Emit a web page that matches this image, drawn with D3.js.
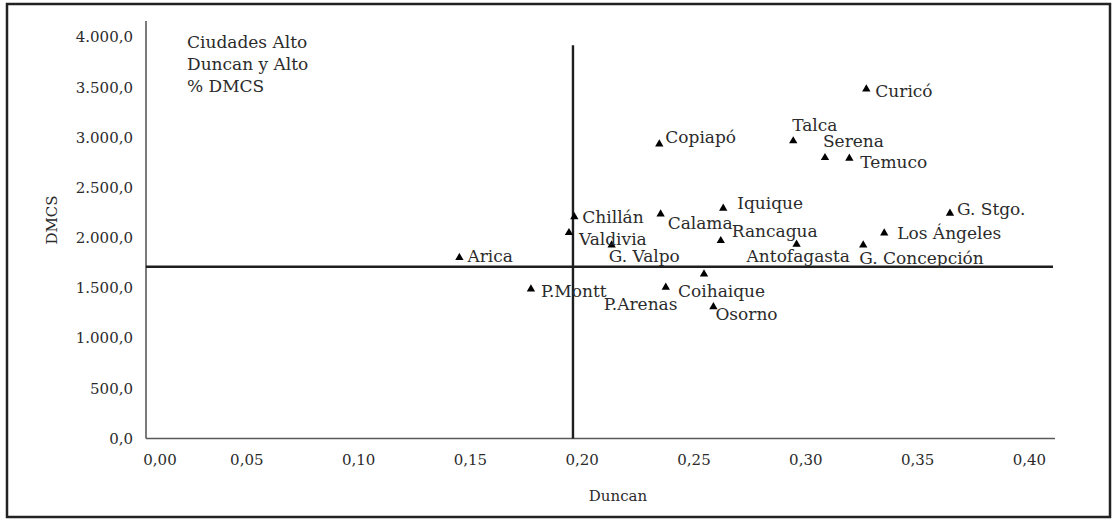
<!DOCTYPE html>
<html><head><meta charset="utf-8">
<script src="https://cdn.jsdelivr.net/npm/d3@7"></script>
<style>
body{margin:0;background:#fff}
svg text{font-family:"DejaVu Serif","Liberation Serif",serif;fill:#2b2b2b}
</style>
</head><body>
<svg id="chart" width="1113" height="521"></svg>
<script>
// ---- data ----
const cities = ["Arica","P.Montt","Valdivia","Chillán","G. Valpo","Copiapó","Calama","P.Arenas","Coihaique","Osorno","Rancagua","Iquique","Talca","Antofagasta","Serena","Temuco","G. Concepción","Curicó","Los Ángeles","G. Stgo."];
const duncan = [0.1453,0.1773,0.1943,0.1967,0.2134,0.2347,0.2353,0.2376,0.2547,0.2589,0.2622,0.2633,0.2946,0.2961,0.3088,0.3197,0.3259,0.3273,0.3353,0.3647];
const dmcs = [1802,1490,2051,2210,1928,2935,2237,1507,1639,1313,1971,2294,2965,1935,2798,2792,1928,3483,2048,2244];
const xTicks = [0,0.05,0.10,0.15,0.20,0.25,0.30,0.35,0.40];
const yTicks = [0,500,1000,1500,2000,2500,3000,3500,4000];
const meanDuncan = 0.1961;
const meanDMCS = 1712;
const refTop = 3920;
const annotation = ["Ciudades Alto","Duncan y Alto","% DMCS"];
const xTitle = "Duncan", yTitle = "DMCS";
// label offsets (layout only)
const labelDx = [8,10,10,8,-3,6,7,-62,-26,2,11,14,-1,-50,-2,11,-4,9,13,7];
const labelDy = [4,8,12,6,17,-1,15,23,23,13,-4,1,-10,18,-11,10,19,8,6,2];

// ---- layout ----
const svg = d3.select("#chart");
const plotLeft = 146, plotRight = 1055, axisTop = 21;
const x = d3.scaleLinear().domain([0, 0.41]).range([134.5, 134.5 + 0.41*2236]);
const y = d3.scaleLinear().domain([0, 4000]).range([438.5, 37.1]);
const loc = d3.formatLocale({decimal:",", thousands:".", grouping:[3], currency:["",""]});
const fy = loc.format(",.1f"), fx = loc.format(".2f");

// frame
svg.append("rect").attr("x",7).attr("y",4).attr("width",1103).attr("height",513)
  .attr("fill","none").attr("stroke","#222").attr("stroke-width",2.5);

// axes lines
svg.append("line").attr("x1",plotLeft).attr("x2",plotRight).attr("y1",y(0)).attr("y2",y(0))
  .attr("stroke","#5a5a5a").attr("stroke-width",1.6);
svg.append("line").attr("x1",plotLeft).attr("x2",plotLeft).attr("y1",y(0)).attr("y2",axisTop)
  .attr("stroke","#5a5a5a").attr("stroke-width",1.6);

// x axis ticks
const gx = svg.append("g").attr("transform",`translate(0,${y(0)})`)
  .call(d3.axisBottom(x).tickValues(xTicks).tickFormat(fx).tickSize(0).tickPadding(16));
gx.select(".domain").remove();
gx.selectAll("text").style("font-size","15px").attr("fill","#2b2b2b");
gx.selectAll(".tick text").filter((d,i)=>i===0).attr("dx",25);

// y axis ticks
const gy = svg.append("g").attr("transform",`translate(${plotLeft},0)`)
  .call(d3.axisLeft(y).tickValues(yTicks).tickFormat(fy).tickSize(0).tickPadding(13));
gy.select(".domain").remove();
gy.selectAll("text").style("font-size","15px").attr("fill","#2b2b2b");

// axis titles
svg.append("text").attr("x",618).attr("y",501).attr("text-anchor","middle")
  .style("font-size","15px").text(xTitle);
svg.append("text").attr("transform","translate(57,220) rotate(-90)").attr("text-anchor","middle")
  .style("font-size","15px").text(yTitle);

// reference lines
svg.append("line").attr("x1",x(meanDuncan)).attr("x2",x(meanDuncan)).attr("y1",y(0)).attr("y2",y(refTop))
  .attr("stroke","#1e1e1e").attr("stroke-width",2.4);
svg.append("line").attr("x1",plotLeft).attr("x2",plotRight - 2).attr("y1",y(meanDMCS)).attr("y2",y(meanDMCS))
  .attr("stroke","#1e1e1e").attr("stroke-width",2.4);

// annotation
const ann = svg.append("text").attr("x",187).attr("y",48).style("font-size","17px");
annotation.forEach((t,i)=> ann.append("tspan").attr("x",187).attr("dy", i===0?0:22).text(t));

// points
const data = cities.map((c,i)=>({c, dx:duncan[i], dm:dmcs[i], i}));
svg.append("g").selectAll("path").data(data).join("path")
  .attr("d", d3.symbol(d3.symbolTriangle, 30))
  .attr("transform", d=>`translate(${x(d.dx)},${y(d.dm)})`)
  .attr("fill","#000");

svg.append("g").selectAll("text").data(data).join("text")
  .attr("x", d=>x(d.dx) + labelDx[d.i])
  .attr("y", d=>y(d.dm) + labelDy[d.i])
  .style("font-size","17px")
  .text(d=>d.c);
</script>
</body></html>
